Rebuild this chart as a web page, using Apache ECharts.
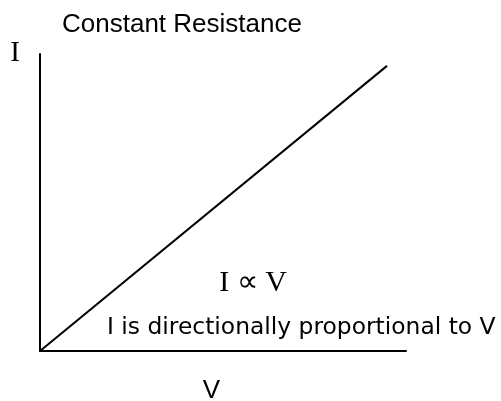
<!DOCTYPE html>
<html>
<head>
<meta charset="utf-8">
<script src="https://cdn.jsdelivr.net/npm/echarts@6/dist/echarts.min.js"></script>
<style>
  html, body { margin: 0; padding: 0; background: #fff; }
  #chart { width: 501px; height: 401px; }
</style>
</head>
<body>
<div id="chart"></div>
<script>
// straight line through the origin, I against V
const voltage = [0, 94.8]
const current = [0, 96]

const titleText = 'Constant Resistance'
const yName = 'I'
const xName = 'V'
const relation = 'I \u221D V'
const caption = 'I is directionally proportional to V'

const chart = echarts.init(document.getElementById('chart'))

const option = {
  animation: false,
  grid: { left: 40, right: 95, top: 54, bottom: 50 },
  xAxis: {
    type: 'value',
    min: 0,
    max: 100,
    axisLine: { show: true, lineStyle: { color: '#000', width: 2 } },
    axisTick: { show: false },
    axisLabel: { show: false },
    splitLine: { show: false }
  },
  yAxis: {
    type: 'value',
    min: 0,
    max: 100,
    axisLine: { show: true, lineStyle: { color: '#000', width: 2 } },
    axisTick: { show: false },
    axisLabel: { show: false },
    splitLine: { show: false }
  },
  series: [
    {
      type: 'line',
      data: voltage.map((v, i) => [v, current[i]]),
      symbol: 'none',
      lineStyle: { color: '#000', width: 2 }
    }
  ],
  graphic: [
    {
      type: 'text', left: 62, top: 12,
      style: { text: titleText, font: '26px "Liberation Sans", Arial, sans-serif', fill: '#000' }
    },
    {
      type: 'text', x: 15, y: 53.5,
      style: { text: yName, font: '29px "Liberation Serif", serif', fill: '#000', align: 'center', verticalAlign: 'middle' }
    },
    {
      type: 'text', x: 253, y: 283.5,
      style: { text: relation, font: '30px "Liberation Serif", serif', fill: '#000', align: 'center', verticalAlign: 'middle' }
    },
    {
      type: 'text', x: 107, y: 327.5,
      style: { text: caption, font: '23.4px "DejaVu Sans", Verdana, sans-serif', fill: '#000', align: 'left', verticalAlign: 'middle' }
    },
    {
      type: 'text', x: 211.5, y: 391,
      style: { text: xName, font: '26px "Liberation Sans", Arial, sans-serif', fill: '#000', align: 'center', verticalAlign: 'middle' }
    }
  ]
}

chart.setOption(option)
window.addEventListener('resize', () => chart.resize())
</script>
</body>
</html>
